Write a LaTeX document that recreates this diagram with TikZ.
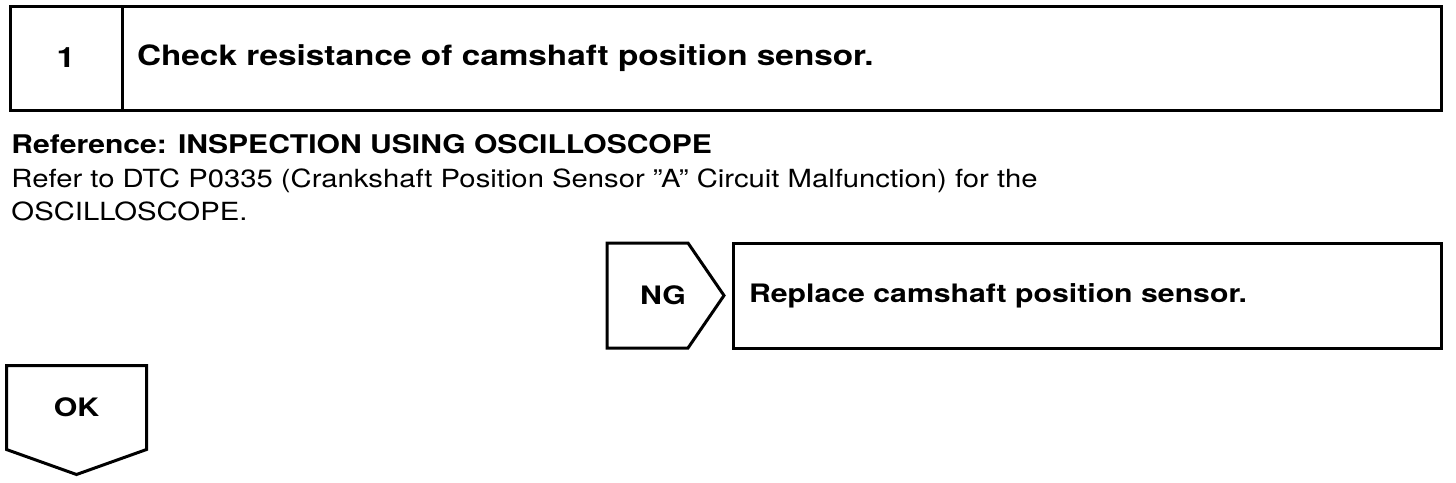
\documentclass[tikz,border=0pt]{standalone}
\usepackage{fontspec}
\setmainfont[FakeStretch=1.19]{TeX Gyre Heros}
\newfontfamily\notefamily[FakeStretch=1.17]{TeX Gyre Heros}
\usepackage{tikz}
\usetikzlibrary{positioning}

\begin{document}
\begin{tikzpicture}[x=1pt, y=-1pt, line width=3pt,
  stepbox/.style={draw, inner sep=0pt, outer sep=0pt, minimum height=104pt},
  bigfont/.style={font=\fontsize{28}{30}\selectfont\bfseries},
  tagfont/.style={font=\fontsize{25.4}{30}\selectfont\bfseries},
  bodyfont/.style={font=\notefamily\fontsize{25}{33}\selectfont}]
\useasboundingbox (0,0) rectangle (1456,482);
% step header
\node[stepbox, bigfont, minimum width=112pt] (num) at (66,58) {1};
\node[stepbox, bigfont, right=0pt of num, text width=1289pt, align=left, inner xsep=15pt] (title) {Check resistance of camshaft position sensor.};
% reference text
\node[font=\notefamily\fontsize{25.7}{33}\selectfont\bfseries, anchor=base west, inner sep=0pt] (ref) at (10,153) {Reference: INSPECTION USING OSCILLOSCOPE};
\node[bodyfont, anchor=base west, inner sep=0pt, align=left] (refer) at (10,220) {Refer to DTC P0335 (Crankshaft Position Sensor ”A” Circuit Malfunction) for the\\OSCILLOSCOPE.};
% NG branch
\node[tagfont, inner sep=0pt, outer sep=0pt, minimum width=112pt, minimum height=105pt] (ng) at (663,295.5) {NG};
\draw (ng.north west) -- ([xshift=-31pt]ng.north east) -- ([xshift=5pt]ng.east) -- ([xshift=-31pt]ng.south east) -- (ng.south west) -- cycle;
\node[stepbox, tagfont, right=14pt of ng, minimum height=105pt, text width=676pt, align=left, inner xsep=16pt] (replace) {Replace camshaft position sensor.};
% OK branch
\node[tagfont, inner sep=0pt, minimum width=137pt, minimum height=81pt] (ok) at (76.5,407.5) {OK};
\draw (ok.north west) -- (ok.north east) -- (ok.south east) -- ([yshift=-25pt]ok.south) -- (ok.south west) -- cycle;
\end{tikzpicture}
\end{document}
